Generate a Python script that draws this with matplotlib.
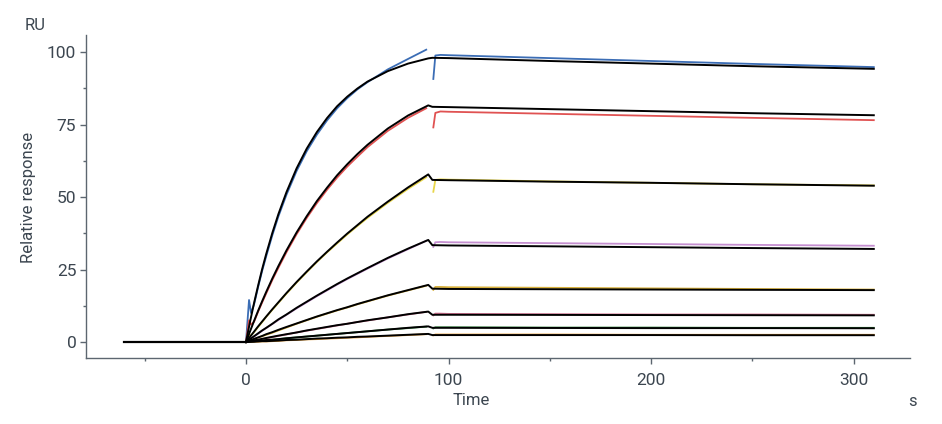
"""SPR sensorgram: relative response vs time, with 1:1 fit curves"""
import matplotlib
matplotlib.use('Agg')
import matplotlib.pyplot as plt
from matplotlib.ticker import MultipleLocator

# baseline before injection
t_base = [-60, 0]
base_values = [0, 0]

# fitted curves (black): association phase, then dissociation phase
t_fit_assoc = [0, 2, 4, 6, 8, 10, 13, 16, 20, 25, 30, 35, 40, 45, 50, 55, 60, 70, 80, 90]
t_fit_dissoc = [92, 100, 150, 200, 250, 310]

fit_assoc_1 = [0, 7.0, 13.5, 19.5, 25.2, 30.4, 37.6, 44.1, 51.7, 59.9, 66.7, 72.4, 77.2, 81.3, 84.6, 87.4, 89.8, 93.4, 96.0, 97.8]
fit_assoc_2 = [0, 3.7, 7.3, 10.8, 14.1, 17.3, 21.9, 26.2, 31.6, 37.8, 43.4, 48.6, 53.2, 57.5, 61.3, 64.8, 68.0, 73.6, 78.1, 81.6]
fit_assoc_3 = [0, 1.8, 3.6, 5.4, 7.1, 8.8, 11.3, 13.7, 16.9, 20.7, 24.3, 27.8, 31.1, 34.3, 37.4, 40.3, 43.2, 48.4, 53.3, 57.8]
fit_assoc_4 = [0, 1.0, 2.0, 3.0, 4.0, 4.9, 6.3, 7.8, 9.5, 11.8, 13.9, 16.0, 18.0, 20.0, 21.9, 23.7, 25.5, 29.0, 32.2, 35.2]
fit_assoc_5 = [0, 0.5, 1.1, 1.6, 2.1, 2.7, 3.4, 4.2, 5.2, 6.4, 7.6, 8.8, 9.9, 11.0, 12.0, 13.1, 14.1, 16.1, 17.9, 19.7]
fit_assoc_6 = [0, 0.3, 0.6, 0.8, 1.1, 1.4, 1.8, 2.2, 2.7, 3.3, 4.0, 4.6, 5.2, 5.8, 6.3, 6.9, 7.5, 8.5, 9.6, 10.5]
fit_assoc_7 = [0, 0.1, 0.3, 0.4, 0.5, 0.7, 0.8, 1.0, 1.3, 1.6, 1.9, 2.2, 2.5, 2.8, 3.1, 3.4, 3.7, 4.3, 4.9, 5.4]
fit_assoc_8 = [0, 0.1, 0.1, 0.2, 0.3, 0.3, 0.4, 0.5, 0.7, 0.8, 1.0, 1.2, 1.3, 1.5, 1.6, 1.8, 1.9, 2.2, 2.5, 2.8]

fit_dissoc_1 = [98.0, 97.9, 96.9, 96.0, 95.1, 94.2]
fit_dissoc_2 = [81.1, 81.0, 80.3, 79.6, 78.9, 78.2]
fit_dissoc_3 = [55.9, 55.8, 55.3, 54.9, 54.4, 53.9]
fit_dissoc_4 = [33.4, 33.3, 33.0, 32.7, 32.4, 32.1]
fit_dissoc_5 = [18.4, 18.3, 18.2, 18.1, 18.0, 17.9]
fit_dissoc_6 = [9.4, 9.4, 9.35, 9.3, 9.25, 9.2]
fit_dissoc_7 = [4.9, 4.9, 4.85, 4.8, 4.8, 4.75]
fit_dissoc_8 = [2.4, 2.4, 2.4, 2.4, 2.35, 2.35]

# measured curves (coloured)
t_data_assoc = [0, 1.5, 2.5, 4, 6, 8, 10, 13, 16, 20, 25, 30, 35, 40, 45, 50, 55, 60, 70, 80, 89]
t_data_dissoc = [92.5, 93.5, 96, 100, 150, 200, 250, 310]

data_assoc_1 = [0, 14.5, 10.0, 13.0, 19.0, 24.6, 29.6, 36.8, 43.3, 50.8, 59.0, 65.8, 71.5, 76.4, 80.6, 84.1, 87.1, 89.6, 94.0, 97.6, 100.8]
data_assoc_2 = [0, 7.5, 6.0, 7.0, 10.5, 13.7, 16.8, 21.4, 25.6, 31.0, 37.2, 42.8, 47.9, 52.5, 56.7, 60.5, 63.9, 67.2, 72.8, 77.3, 80.6]
data_assoc_3 = [0, 2.5, 2.3, 3.4, 5.2, 6.9, 8.7, 11.1, 13.5, 16.7, 20.5, 24.1, 27.6, 30.9, 34.0, 37.1, 40.0, 42.8, 48.0, 52.8, 56.8]
data_assoc_4 = [0, 1.5, 1.3, 1.9, 2.9, 3.9, 4.8, 6.2, 7.6, 9.4, 11.6, 13.7, 15.8, 17.8, 19.8, 21.7, 23.5, 25.3, 28.8, 32.0, 34.9]
data_assoc_5 = [0, 0.6, 0.6, 1.0, 1.5, 2.0, 2.5, 3.2, 4.0, 5.0, 6.3, 7.5, 8.7, 9.8, 10.9, 11.9, 13.0, 14.0, 16.0, 17.8, 19.4]
data_assoc_6 = [0, 0.3, 0.3, 0.5, 0.8, 1.0, 1.3, 1.7, 2.1, 2.6, 3.3, 3.9, 4.5, 5.1, 5.7, 6.3, 6.9, 7.4, 8.5, 9.5, 10.4]
data_assoc_7 = [0, 0.1, 0.1, 0.2, 0.4, 0.5, 0.6, 0.8, 1.0, 1.3, 1.6, 1.9, 2.2, 2.5, 2.8, 3.1, 3.4, 3.7, 4.3, 4.8, 5.3]
data_assoc_8 = [0, 0.0, 0.0, 0.1, 0.1, 0.2, 0.2, 0.3, 0.4, 0.6, 0.7, 0.9, 1.0, 1.2, 1.3, 1.5, 1.6, 1.8, 2.1, 2.4, 2.7]

data_dissoc_1 = [90.7, 98.8, 99.0, 98.9, 97.9, 96.9, 95.9, 94.8]
data_dissoc_2 = [74.0, 79.0, 79.5, 79.4, 78.7, 78.0, 77.3, 76.5]
data_dissoc_3 = [51.8, 55.9, 56.1, 56.0, 55.4, 54.9, 54.4, 54.0]
data_dissoc_4 = [32.8, 34.4, 34.5, 34.4, 34.1, 33.8, 33.5, 33.2]
data_dissoc_5 = [18.0, 19.0, 19.0, 18.9, 18.7, 18.5, 18.3, 18.1]
data_dissoc_6 = [9.2, 9.8, 9.8, 9.7, 9.6, 9.5, 9.5, 9.4]
data_dissoc_7 = [4.7, 5.1, 5.1, 5.1, 5.0, 5.0, 4.9, 4.9]
data_dissoc_8 = [2.3, 2.6, 2.6, 2.6, 2.6, 2.5, 2.5, 2.5]

data_colors = ['#3b6db5', '#e05252', '#e8d64a', '#c58fd0',
               '#d8b13c', '#d0708f', '#3a8a45', '#e39a35']

fit_assoc = [fit_assoc_1, fit_assoc_2, fit_assoc_3, fit_assoc_4,
             fit_assoc_5, fit_assoc_6, fit_assoc_7, fit_assoc_8]
fit_dissoc = [fit_dissoc_1, fit_dissoc_2, fit_dissoc_3, fit_dissoc_4,
              fit_dissoc_5, fit_dissoc_6, fit_dissoc_7, fit_dissoc_8]
data_assoc = [data_assoc_1, data_assoc_2, data_assoc_3, data_assoc_4,
              data_assoc_5, data_assoc_6, data_assoc_7, data_assoc_8]
data_dissoc = [data_dissoc_1, data_dissoc_2, data_dissoc_3, data_dissoc_4,
               data_dissoc_5, data_dissoc_6, data_dissoc_7, data_dissoc_8]

# 字体及颜色
plt.rcParams['font.family'] = ['Roboto', 'DejaVu Sans']
plt.rcParams['font.size'] = 12
text_color = '#3c4650'
axis_color = '#5c6670'

fig = plt.figure(figsize=(9.42, 4.24), dpi=100)
ax = fig.add_axes([0.0913, 0.1557, 0.875, 0.762])

# 测量曲线
for i in range(8):
    ax.plot(t_data_assoc, data_assoc[i], color=data_colors[i], lw=1.3, zorder=2)
    ax.plot(t_data_dissoc, data_dissoc[i], color=data_colors[i], lw=1.3, zorder=2)

# 拟合曲线
for i in range(8):
    ax.plot(t_fit_assoc + t_fit_dissoc, fit_assoc[i] + fit_dissoc[i],
            color='black', lw=1.4, zorder=3)
ax.plot(t_base, base_values, color='black', lw=1.6, zorder=3)

ax.set_xlim(-79, 328)
ax.set_ylim(-5.5, 105.9)

# 坐标轴样式
ax.spines['right'].set_color('none')
ax.spines['top'].set_color('none')
ax.spines['left'].set_color(axis_color)
ax.spines['bottom'].set_color(axis_color)
ax.spines['left'].set_linewidth(1.0)
ax.spines['bottom'].set_linewidth(1.0)

ax.xaxis.set_major_locator(MultipleLocator(100))
ax.xaxis.set_minor_locator(MultipleLocator(50))
ax.yaxis.set_major_locator(MultipleLocator(25))
ax.yaxis.set_minor_locator(MultipleLocator(12.5))
ax.tick_params(which='major', length=4, width=1, color=axis_color,
               labelcolor=text_color, labelsize=12.5)
ax.tick_params(which='minor', length=2.5, width=1, color=axis_color)
ax.tick_params(axis='x', which='major', pad=7)
ax.tick_params(axis='y', which='major', pad=3)

fig.text(0.5, 0.055, 'Time', ha='center', va='center', color=text_color, fontsize=12)
fig.text(0.969, 0.053, 's', ha='center', va='center', color=text_color, fontsize=12)
fig.text(0.037, 0.941, 'RU', ha='center', va='center', color=text_color, fontsize=12)
fig.text(0.03, 0.535, 'Relative response', ha='center', va='center',
         rotation=90, color=text_color, fontsize=12)

plt.savefig('out.png', dpi=100)
